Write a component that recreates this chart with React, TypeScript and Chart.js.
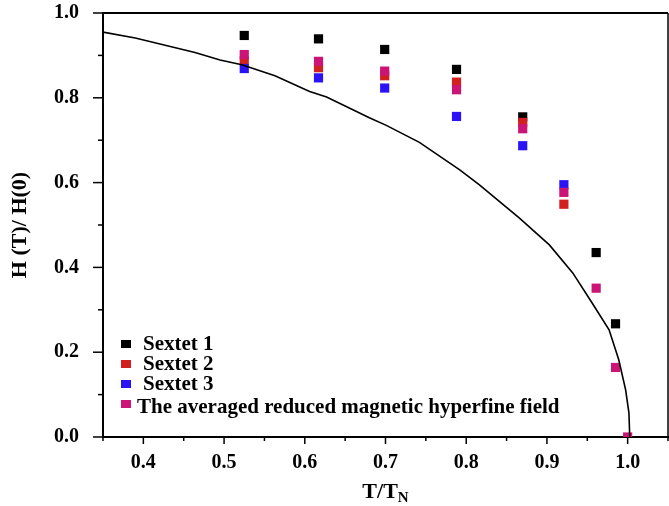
import React, { useEffect, useRef } from 'react';
import { Chart, registerables } from 'chart.js';

Chart.register(...registerables);

// ---- data ----
const tempRatio = [0.525, 0.617, 0.699, 0.788, 0.87, 0.921, 0.961, 0.985, 1.0];
const sextet1 = [0.947, 0.939, 0.914, 0.867, 0.755, null, 0.435, 0.267, null];
const sextet2 = [0.887, 0.871, 0.852, 0.837, 0.742, 0.549, null, null, null];
const sextet3 = [0.869, 0.847, 0.823, 0.756, 0.687, 0.595, null, null, null];
const averaged = [0.902, 0.886, 0.863, 0.819, 0.727, 0.577, 0.351, 0.164, 0.0];

const curveX = [0.35, 0.39, 0.464, 0.495, 0.522, 0.563, 0.606, 0.627, 0.68, 0.701, 0.742, 0.792, 0.816, 0.866, 0.903, 0.932, 0.956, 0.977, 0.989, 0.9975, 1.0016, 1.0026];
const curveY = [0.955, 0.941, 0.907, 0.889, 0.878, 0.852, 0.815, 0.802, 0.753, 0.735, 0.695, 0.63, 0.595, 0.516, 0.453, 0.387, 0.316, 0.253, 0.182, 0.111, 0.057, 0.0];

const xMajorTicks = [0.4, 0.5, 0.6, 0.7, 0.8, 0.9, 1.0];
const xMinorTicks = [0.35, 0.45, 0.55, 0.65, 0.75, 0.85, 0.95, 1.05];
const yMajorTicks = [0.0, 0.2, 0.4, 0.6, 0.8, 1.0];
const yMinorTicks = [0.1, 0.3, 0.5, 0.7, 0.9];

const seriesLabels = ['Sextet 1', 'Sextet 2', 'Sextet 3', 'The averaged reduced magnetic hyperfine field'];
const seriesColors = ['#000000', '#d21f1f', '#2a14f5', '#cc1477'];

const FONT = '"Liberation Serif", "Times New Roman", serif';

const toPoints = (xs: number[], ys: (number | null)[]) =>
  xs.map((x, i) => ({ x, y: ys[i] })).filter((p) => p.y !== null && p.y !== undefined);

const framePlugin = {
  id: 'frameTicks',
  afterDraw(chart: any) {
    const { ctx, chartArea: a, scales } = chart;
    const x = scales.x;
    const y = scales.y;
    ctx.save();
    ctx.strokeStyle = '#000';
    ctx.lineWidth = 2;
    ctx.beginPath();
    ctx.moveTo(a.left - 1, a.top);
    ctx.lineTo(a.right, a.top);
    ctx.stroke();
    ctx.lineWidth = 1.5;
    ctx.beginPath();
    ctx.moveTo(a.right, a.top);
    ctx.lineTo(a.right, a.bottom);
    ctx.stroke();
    ctx.lineWidth = 1.5;
    const xt = (v: number, len: number) => {
      const p = x.getPixelForValue(v);
      ctx.beginPath();
      ctx.moveTo(p, a.bottom);
      ctx.lineTo(p, a.bottom + len);
      ctx.stroke();
    };
    const yt = (v: number, len: number) => {
      const p = y.getPixelForValue(v);
      ctx.beginPath();
      ctx.moveTo(a.left, p);
      ctx.lineTo(a.left - len, p);
      ctx.stroke();
    };
    xMajorTicks.forEach((v) => xt(v, 7));
    xMinorTicks.forEach((v) => xt(v, 4));
    yMajorTicks.forEach((v) => yt(v, 10));
    yMinorTicks.forEach((v) => yt(v, 5));
    ctx.restore();
  },
};

const legendPlugin = {
  id: 'insideLegend',
  afterDraw(chart: any) {
    const { ctx, chartArea: a } = chart;
    ctx.save();
    ctx.font = `bold 21px ${FONT}`;
    ctx.textBaseline = 'middle';
    ctx.textAlign = 'left';
    const rows = [a.bottom - 93, a.bottom - 73, a.bottom - 53, a.bottom - 33];
    seriesLabels.forEach((lab, i) => {
      const cy = rows[i];
      ctx.fillStyle = seriesColors[i];
      ctx.fillRect(a.left + 18, cy - 4, 10, 8);
      ctx.fillStyle = '#000';
      const tx = i === 3 ? a.left + 34 : a.left + 40;
      ctx.fillText(lab, tx, cy + (i === 3 ? 4 : 1));
    });
    ctx.restore();
  },
};

const titlePlugin = {
  id: 'axisTitles',
  afterDraw(chart: any) {
    const { ctx, chartArea: a } = chart;
    ctx.save();
    ctx.fillStyle = '#000';
    ctx.translate(20, (a.top + a.bottom) / 2);
    ctx.rotate(-Math.PI / 2);
    ctx.font = `bold 22px ${FONT}`;
    ctx.textAlign = 'center';
    ctx.textBaseline = 'middle';
    ctx.fillText('H (T)/ H(0)', 0, 0);
    ctx.restore();
    ctx.save();
    ctx.fillStyle = '#000';
    ctx.textBaseline = 'alphabetic';
    ctx.textAlign = 'left';
    ctx.font = `bold 22px ${FONT}`;
    const main = 'T/T';
    const w1 = ctx.measureText(main).width;
    ctx.font = `bold 15px ${FONT}`;
    const w2 = ctx.measureText('N').width;
    const cx = (a.left + a.right) / 2;
    const start = cx - (w1 + w2) / 2;
    ctx.font = `bold 22px ${FONT}`;
    ctx.fillText(main, start, 498);
    ctx.font = `bold 15px ${FONT}`;
    ctx.fillText('N', start + w1, 502);
    ctx.restore();
  },
};

export default function App() {
  const ref = useRef<HTMLCanvasElement | null>(null);

  useEffect(() => {
    if (!ref.current) return;
    const sets = [sextet1, sextet2, sextet3, averaged];
    const chart = new Chart(ref.current, {
      type: 'scatter',
      data: {
        datasets: [
          {
            label: 'theory',
            data: toPoints(curveX, curveY),
            showLine: true,
            borderColor: '#000',
            borderWidth: 1.6,
            pointRadius: 0,
            tension: 0,
            order: 0,
          } as any,
          ...sets.map((s, i) => ({
            label: seriesLabels[i],
            data: toPoints(tempRatio, s),
            pointStyle: 'rect',
            pointRadius: 6.5,
            backgroundColor: seriesColors[i],
            borderColor: seriesColors[i],
            borderWidth: 0,
            showLine: false,
            order: 4 - i,
          })),
        ],
      },
      options: {
        responsive: false,
        animation: false,
        layout: { autoPadding: false, padding: { top: 13, right: 1, left: 0, bottom: 0 } },
        plugins: {
          legend: { display: false },
          tooltip: { enabled: false },
          title: { display: false },
        },
        scales: {
          x: {
            type: 'linear',
            min: 0.35,
            max: 1.05,
            grid: { display: true, drawOnChartArea: false, drawTicks: false },
            border: { display: true, color: '#000', width: 2 },
            afterBuildTicks: (scale: any) => {
              scale.ticks = xMajorTicks.map((v) => ({ value: v }));
            },
            afterFit: (scale: any) => {
              scale.height = 69;
              scale.paddingLeft = 0;
              scale.paddingRight = 0;
              scale.paddingTop = 0;
              scale.paddingBottom = 0;
            },
            ticks: {
              color: '#000',
              padding: 14,
              font: { family: FONT, size: 20, weight: 'bold' },
              maxRotation: 0,
              autoSkip: false,
              callback: (v: any) => Number(v).toFixed(1),
            },
          },
          y: {
            type: 'linear',
            min: 0,
            max: 1.0,
            grid: { display: true, drawOnChartArea: false, drawTicks: false },
            border: { display: true, color: '#000', width: 2 },
            afterBuildTicks: (scale: any) => {
              scale.ticks = yMajorTicks.map((v) => ({ value: v }));
            },
            afterFit: (scale: any) => {
              scale.width = 103;
              scale.paddingLeft = 0;
              scale.paddingRight = 0;
              scale.paddingTop = 0;
              scale.paddingBottom = 0;
            },
            ticks: {
              color: '#000',
              padding: 24,
              font: { family: FONT, size: 20, weight: 'bold' },
              autoSkip: false,
              callback: (v: any) => Number(v).toFixed(1),
            },
          },
        },
      } as any,
      plugins: [framePlugin, legendPlugin, titlePlugin],
    });
    return () => chart.destroy();
  }, []);

  return (
    <div style={{ position: 'fixed', left: 0, top: 0, width: 669, height: 506, background: '#fff' }}>
      <canvas ref={ref} width={669} height={506} style={{ display: 'block' }} />
    </div>
  );
}
